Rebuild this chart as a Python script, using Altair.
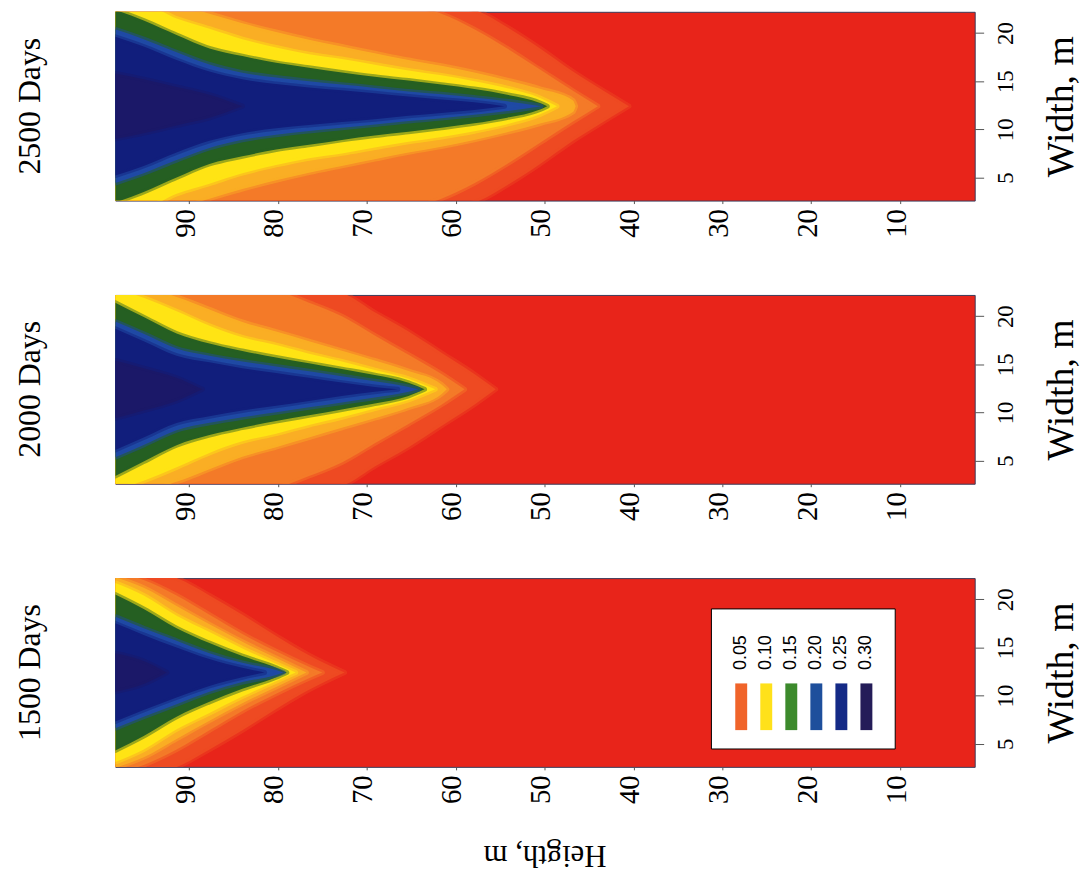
import altair as alt
import pandas as pd

# ---------------- data ----------------
HEIGHT_TICKS = [10, 20, 30, 40, 50, 60, 70, 80, 90]
WIDTH_TICKS = [5, 10, 15, 20]
H_DOMAIN = [1.6, 98.3]
W_DOMAIN = [2.6, 22.2]
CENTER_W = 12.4

LEVELS = ["0.05", "0.10", "0.15", "0.20", "0.25", "0.30"]
LEGEND_COLORS = ["#F0642A", "#FFE11A", "#3C8A2C", "#1E4F9C", "#142A86", "#241C58"]
# fill colours of the drawn bands, from the faint orange haze to the core
BAND_COLORS = ["#EE4A22", "#F47A28", "#FAAE24", "#FFE414", "#255F22", "#1F4AA5", "#111E7C", "#1B1868"]

PANEL_TITLES = ["2500 Days", "2000 Days", "1500 Days"]

# heights (m) at which the half-width of each band was read
SAMPLE_H = [98.3, 95.1, 91.4, 87.7, 84.0, 80.2, 76.5, 72.8, 69.1, 65.3, 61.6, 57.9, 54.2, 50.5, 46.8, 43.0]

# 1500 days: half-widths (m) of each band, then height where it closes
HW1500 = [
    [10.5, 10.5, 9.8, 8.0, 6.0, 3.8, 1.8],
    [10.5, 9.6, 8.0, 6.0, 4.0, 2.2, 0.6],
    [9.9, 8.8, 6.9, 5.0, 3.2, 1.5],
    [9.3, 8.0, 5.9, 4.2, 2.5, 0.9],
    [8.1, 6.6, 4.6, 3.05, 1.7, 0.5],
    [5.8, 4.6, 3.3, 2.0, 1.0, 0.25],
    [5.1, 3.9, 2.6, 1.4, 0.5],
    [2.0, 1.2],
]
TIP1500 = [72.5, 75.0, 76.8, 78.0, 79.0, 79.4, 81.5, 92.5]

# 2000 days
HW2000 = [
    [10.5, 10.5, 10.5, 10.5, 10.5, 10.5, 10.5, 10.0, 8.0, 6.0, 3.8, 1.6],
    [10.5, 10.5, 10.5, 10.5, 10.5, 10.2, 9.0, 7.6, 5.6, 3.6, 1.6],
    [10.5, 10.5, 9.6, 8.3, 7.0, 6.0, 5.0, 4.0, 3.0, 1.9, 0.5],
    [10.5, 9.5, 8.1, 6.6, 5.4, 4.6, 3.7, 2.9, 2.0, 1.1],
    [9.0, 7.5, 5.8, 4.75, 3.98, 3.3, 2.7, 2.1, 1.48, 0.68],
    [7.04, 5.77, 4.24, 3.48, 2.89, 2.38, 1.87, 1.36, 0.85, 0.25],
    [6.3, 5.0, 3.5, 2.8, 2.2, 1.7, 1.2, 0.7, 0.25],
    [3.0, 2.2, 1.2],
]
TIP2000 = [55.5, 59.0, 61.0, 62.3, 63.5, 64.2, 66.5, 88.5]

# 2500 days
HW2500 = [
    [10.5, 10.5, 10.5, 10.5, 10.5, 10.5, 10.5, 10.5, 10.5, 10.5, 10.5, 10.0, 8.2, 6.0, 3.6, 1.4],
    [10.5, 10.5, 10.5, 10.5, 10.5, 10.5, 10.5, 10.5, 10.5, 10.5, 9.6, 8.0, 6.0, 3.8, 1.6],
    [10.5, 10.5, 10.5, 9.6, 8.6, 7.7, 6.9, 6.2, 5.5, 4.8, 4.2, 3.5, 2.7, 1.8, 0.6],
    [10.5, 10.5, 9.1, 8.05, 6.96, 6.1, 5.4, 4.9, 4.3, 3.7, 3.2, 2.6, 1.87, 0.85],
    [10.0, 8.9, 7.4, 6.0, 5.2, 4.5, 4.0, 3.5, 3.05, 2.66, 2.24, 1.78, 1.19, 0.34],
    [7.98, 6.96, 5.6, 4.33, 3.48, 2.97, 2.58, 2.24, 1.9, 1.53, 1.24, 0.9, 0.51],
    [7.2, 6.2, 4.8, 3.6, 2.8, 2.3, 1.95, 1.65, 1.35, 1.0, 0.7, 0.4],
    [3.4, 2.8, 2.0, 1.2],
]
TIP2500 = [40.5, 44.0, 46.5, 48.6, 49.7, 50.4, 54.5, 84.0]

# ---------------- styling ----------------
RED = "#E8241A"
SERIF = "Liberation Serif"
SANS = "Liberation Sans"
PW, PH = 865, 190
LEFT_EXTENT = 107

X_ENC = alt.X(
    "h:Q",
    scale=alt.Scale(domain=H_DOMAIN, reverse=True, nice=False, zero=False),
    axis=alt.Axis(values=HEIGHT_TICKS, labelAngle=270, labelFont=SERIF, labelFontSize=29,
                  labelColor="black", tickSize=3, tickColor="#555", labelPadding=5,
                  domain=False, grid=False, title=None, labelOffset=-4),
)
Y_ENC = alt.Y(
    "lo:Q",
    scale=alt.Scale(domain=W_DOMAIN, nice=False, zero=False),
    axis=alt.Axis(orient="right", values=WIDTH_TICKS, labelAngle=270, labelAlign="center",
                  labelBaseline="top", labelFont=SERIF, labelFontSize=23, labelColor="black",
                  tickSize=9, tickColor="#555", labelPadding=11, domain=False, grid=False,
                  title="Width, m", titleAngle=270, titleFont=SERIF, titleFontSize=38,
                  titleFontWeight="normal", titleColor="black", titleX=87, titleY=PH / 2,
                  titleAlign="center", titleBaseline="middle"),
)


def band_frame(hws, tip):
    rows = []
    for h, hw in zip(SAMPLE_H, hws):
        rows.append({"h": h, "lo": CENTER_W - hw, "hi": CENTER_W + hw})
    rows.append({"h": tip, "lo": CENTER_W, "hi": CENTER_W})
    return pd.DataFrame(rows)


def panel(title, hw_lists, tips, with_legend):
    layers = []
    for hws, tip, col in zip(hw_lists, tips, BAND_COLORS):
        layers.append(
            alt.Chart(band_frame(hws, tip))
            .mark_area(fill=col, stroke=col, strokeWidth=5, strokeOpacity=0.45,
                       strokeJoin="round", clip=True, interpolate="monotone", orient="vertical")
            .encode(x=X_ENC, y=Y_ENC, y2="hi:Q")
        )
    # invisible spacer fixing the left edge of the page layout
    layers.append(
        alt.Chart(pd.DataFrame({"a": [0]}))
        .mark_rect(color="white")
        .encode(x=alt.value(-LEFT_EXTENT), x2=alt.value(-LEFT_EXTENT + 2),
                y=alt.value(0), y2=alt.value(2))
    )
    layers.append(
        alt.Chart(pd.DataFrame({"t": [title]}))
        .mark_text(angle=270, align="center", baseline="alphabetic", font=SERIF,
                   fontSize=32, color="black")
        .encode(text="t:N", x=alt.value(-76), y=alt.value(PH / 2))
    )
    if with_legend:
        bx0, bx1, by0, by1 = 600, 785, 31, 172
        layers.append(
            alt.Chart(pd.DataFrame({"a": [0]}))
            .mark_rect(fill="white", stroke="black", strokeWidth=1)
            .encode(x=alt.value(bx0), x2=alt.value(bx1), y=alt.value(by0), y2=alt.value(by1))
        )
        for i, (lvl, col) in enumerate(zip(LEVELS, LEGEND_COLORS)):
            xc = 630 + i * 25.2
            layers.append(
                alt.Chart(pd.DataFrame({"a": [0]}))
                .mark_rect(color=col)
                .encode(x=alt.value(xc - 6), x2=alt.value(xc + 6), y=alt.value(106), y2=alt.value(153))
            )
            layers.append(
                alt.Chart(pd.DataFrame({"t": [lvl]}))
                .mark_text(angle=270, align="center", baseline="middle", font=SANS,
                           fontSize=18, color="black")
                .encode(text="t:N", x=alt.value(xc), y=alt.value(75))
            )
        layers.append(
            alt.Chart(pd.DataFrame({"t": ["Heigth, m"]}))
            .mark_text(angle=180, align="center", baseline="middle", font=SERIF,
                       fontSize=31, color="black")
            .encode(text="t:N", x=alt.value(PW / 2), y=alt.value(279))
        )
    return alt.layer(*layers).properties(width=PW, height=PH)


chart = (
    alt.vconcat(
        panel(PANEL_TITLES[0], HW2500, TIP2500, False),
        panel(PANEL_TITLES[1], HW2000, TIP2000, False),
        panel(PANEL_TITLES[2], HW1500, TIP1500, True),
        spacing=95,
        bounds="flush",
    )
    .properties(padding=0)
    .configure_view(fill=RED, stroke="#3A3A5A", strokeWidth=1)
)

chart.save("out.html", embed_options={"renderer": "svg", "actions": False})
